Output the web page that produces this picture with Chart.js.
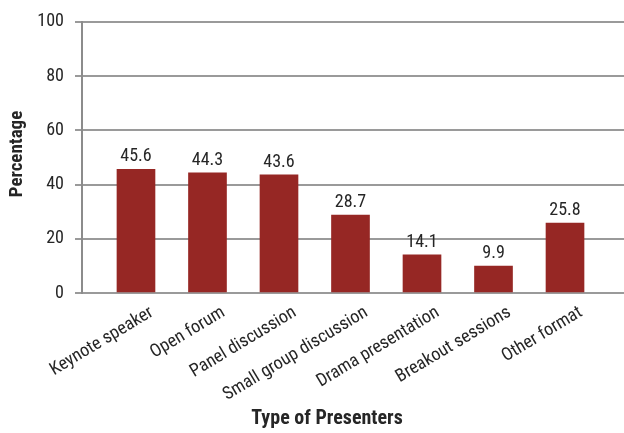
<!DOCTYPE html>
<html>
<head>
<meta charset="utf-8">
<script src="https://cdn.jsdelivr.net/npm/chart.js@4/dist/chart.umd.min.js"></script>
<style>
  html, body { margin: 0; padding: 0; background: #ffffff; }
  #wrap { position: relative; width: 624px; height: 433px; }
</style>
</head>
<body>
<div id="wrap"><canvas id="chart"></canvas></div>
<script>
// Presentation formats and the share of respondents for each
const categories = [
  'Keynote speaker',
  'Open forum',
  'Panel discussion',
  'Small group discussion',
  'Drama presentation',
  'Breakout sessions',
  'Other format'
];
const percentages = [45.6, 44.3, 43.6, 28.7, 14.1, 9.9, 25.8];
const yTicks = [0, 20, 40, 60, 80, 100];
const xTitle = 'Type of Presenters';
const yTitle = 'Percentage';

const FONT = '"Liberation Sans Narrow", "Roboto Condensed", "Arial Narrow", "Liberation Sans", sans-serif';
const BAR = '#962724';
const TEXT = '#262626';
const GRID = '#9a9a9a';

// value labels above each bar, plus the two axis titles
const annotate = {
  id: 'annotate',
  afterDatasetsDraw(chart) {
    const ctx = chart.ctx;
    const meta = chart.getDatasetMeta(0);
    ctx.save();
    ctx.fillStyle = TEXT;
    ctx.font = '18px ' + FONT;
    ctx.textAlign = 'center';
    ctx.textBaseline = 'alphabetic';
    meta.data.forEach((bar, i) => {
      ctx.fillText(percentages[i].toFixed(1), bar.x, bar.y - 8);
    });
    ctx.font = 'bold 20px ' + FONT;
    ctx.textBaseline = 'middle';
    ctx.fillText(xTitle, 327, 419);
    ctx.font = 'bold 19px ' + FONT;
    ctx.translate(17, 154);
    ctx.rotate(-Math.PI / 2);
    ctx.fillText(yTitle, 0, 0);
    ctx.restore();
  }
};

new Chart(document.getElementById('chart'), {
  type: 'bar',
  data: {
    datasets: [{
      data: percentages.map((v, i) => ({ x: i, y: v })),
      backgroundColor: BAR,
      borderWidth: 0,
      barThickness: 38
    }]
  },
  options: {
    responsive: true,
    maintainAspectRatio: false,
    animation: false,
    devicePixelRatio: 1,
    layout: { padding: { top: 19, right: 0, left: 0, bottom: 0 } },
    plugins: {
      legend: { display: false },
      tooltip: { enabled: false },
      title: { display: false }
    },
    scales: {
      x: {
        type: 'linear',
        offset: false,
        min: -0.755,
        max: 6.825,
        grid: { display: false, drawTicks: false },
        border: { display: false },
        afterBuildTicks(scale) {
          scale.ticks = categories.map((_, i) => ({ value: i }));
        },
        afterFit(scale) {
          scale.height = 140;
          scale.paddingLeft = 0;
          scale.paddingRight = 0;
        },
        ticks: {
          autoSkip: false,
          maxRotation: 31,
          minRotation: 31,
          labelOffset: 16,
          padding: 9,
          color: TEXT,
          font: { family: FONT, size: 18 },
          callback: (v) => categories[v]
        }
      },
      y: {
        min: 0,
        max: 100,
        afterBuildTicks(scale) {
          scale.ticks = yTicks.map(v => ({ value: v }));
        },
        afterFit(scale) {
          scale.width = 82;
        },
        grid: {
          color: GRID,
          lineWidth: 2,
          tickLength: 7,
          drawTicks: true
        },
        border: { color: '#8c8c8c', width: 2 },
        ticks: {
          padding: 11,
          color: TEXT,
          font: { family: FONT, size: 18 }
        }
      }
    }
  },
  plugins: [annotate]
});
</script>
</body>
</html>
